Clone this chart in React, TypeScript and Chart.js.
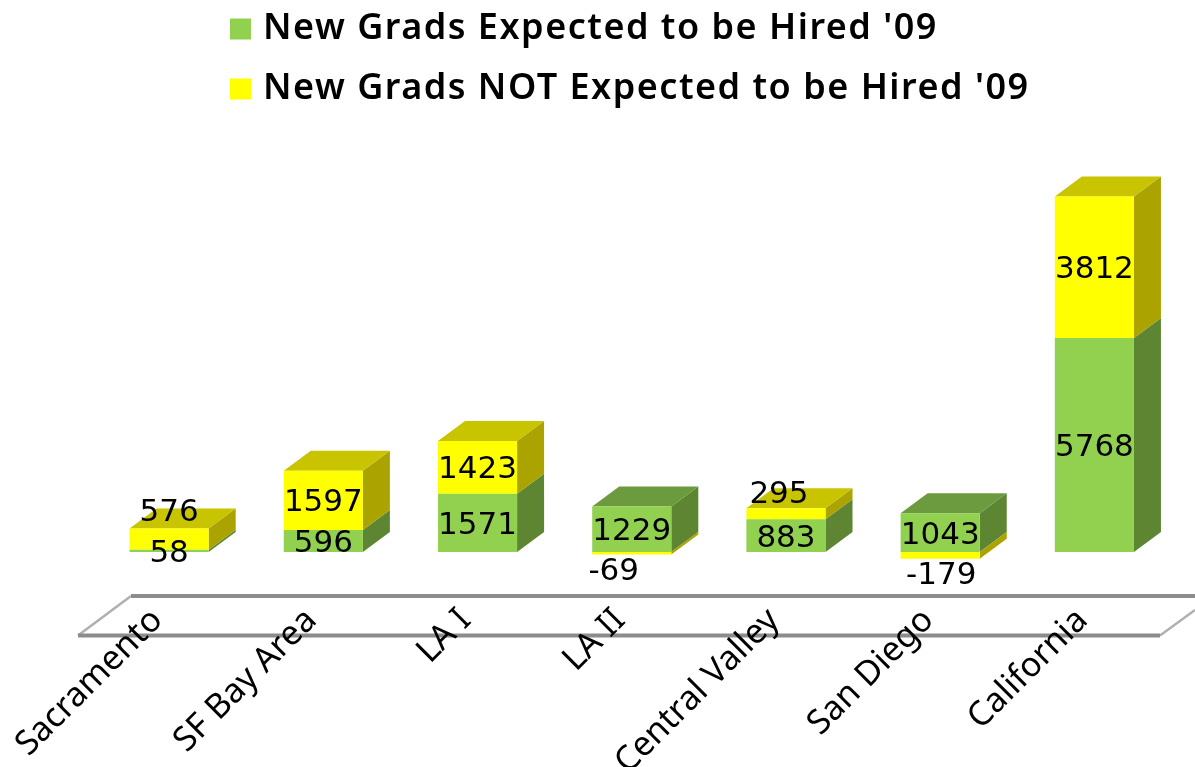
import React, { useEffect, useRef } from "react";
import { Chart, registerables } from "chart.js";

Chart.register(...registerables);

const categories = ["Sacramento", "SF Bay Area", "LA I", "LA II", "Central Valley", "San Diego", "California"];
const expected = [58, 596, 1571, 1229, 883, 1043, 5768];
const notExpected = [576, 1597, 1423, -69, 295, -179, 3812];
const seriesNames = ["New Grads Expected to be Hired '09", "New Grads NOT Expected to be Hired '09"];

const FACE = ["#92D14F", "#FFFF00"];
const SIDE = ["#5E8532", "#ABA300"];
const TOP = ["#6C9A3E", "#C8C400"];
const DEPTH_X = 27;
const DEPTH_Y = -20;
const LABEL_FONT = "31px 'DejaVu Sans'";
// hand nudges of the value labels relative to the segment centre: [dx, dy]
const NUDGE: Record<string, [number, number]> = {
  "1:0": [0, -29],
  "0:0": [0, 0],
  "1:3": [-18, 16],
  "1:4": [-7, -22],
  "1:5": [1, 18],
};

const poly = (ctx: CanvasRenderingContext2D, pts: number[][], color: string) => {
  ctx.fillStyle = color;
  ctx.beginPath();
  pts.forEach(([x, y], i) => (i ? ctx.lineTo(x, y) : ctx.moveTo(x, y)));
  ctx.closePath();
  ctx.fill();
};

const line = (ctx: CanvasRenderingContext2D, pts: number[][], color: string, width: number) => {
  ctx.strokeStyle = color;
  ctx.lineWidth = width;
  ctx.beginPath();
  pts.forEach(([x, y], i) => (i ? ctx.lineTo(x, y) : ctx.moveTo(x, y)));
  ctx.stroke();
};

const box3d = {
  id: "box3d",
  beforeDraw(chart: any) {
    const { ctx, legend } = chart;
    legend.left = 212;
    legend.top = -13;
    if (!legend._spaced) {
      legend._spaced = true;
      const draw = legend.draw;
      legend.draw = function (...args: any[]) {
        ctx.save();
        (ctx as any).letterSpacing = "1.5px";
        draw.apply(legend, args);
        ctx.restore();
      };
    }
    // floor plane
    ctx.save();
    line(ctx, [[78, 635.5], [131, 596]], "#B0B0B0", 2.5);
    line(ctx, [[1160, 635.5], [1195, 610]], "#B0B0B0", 2.5);
    line(ctx, [[131, 596], [1195, 596]], "#8C8C8C", 4);
    line(ctx, [[78, 635.5], [1160, 635.5]], "#8C8C8C", 4);
    ctx.restore();
  },
  beforeDatasetsDraw(chart: any) {
    const { ctx } = chart;
    const metas = [chart.getDatasetMeta(0), chart.getDatasetMeta(1)];
    ctx.save();
    categories.forEach((_, j) => {
      let topDs = 0;
      metas.forEach((meta, d) => {
        const el = meta.data[j];
        const r = el.x + el.width / 2;
        const y1 = Math.min(el.y, el.base);
        const y2 = Math.max(el.y, el.base);
        poly(ctx, [[r, y1], [r + DEPTH_X, y1 + DEPTH_Y], [r + DEPTH_X, y2 + DEPTH_Y], [r, y2]], SIDE[d]);
        if (el.y < metas[topDs].data[j].y) topDs = d;
      });
      const el = metas[topDs].data[j];
      const l = el.x - el.width / 2;
      const r = el.x + el.width / 2;
      poly(ctx, [[l, el.y], [l + DEPTH_X, el.y + DEPTH_Y], [r + DEPTH_X, el.y + DEPTH_Y], [r, el.y]], TOP[topDs]);
    });
    ctx.restore();
  },
  afterDatasetsDraw(chart: any) {
    const { ctx } = chart;
    ctx.save();
    ctx.font = LABEL_FONT;
    ctx.fillStyle = "#000000";
    ctx.textAlign = "center";
    ctx.textBaseline = "middle";
    chart.data.datasets.forEach((ds: any, d: number) => {
      const meta = chart.getDatasetMeta(d);
      ds.data.forEach((v: number, j: number) => {
        const el = meta.data[j];
        const [dx, dy] = NUDGE[`${d}:${j}`] || [0, 0];
        ctx.fillText(String(v), el.x + dx, (el.y + el.base) / 2 + dy + 3);
      });
    });
    ctx.restore();
  },
};

export default function App() {
  const ref = useRef<HTMLCanvasElement>(null);
  useEffect(() => {
    const chart = new Chart(ref.current as HTMLCanvasElement, {
      type: "bar",
      plugins: [box3d],
      data: {
        labels: categories,
        datasets: [
          { label: seriesNames[0], data: expected, backgroundColor: FACE[0] },
          { label: seriesNames[1], data: notExpected, backgroundColor: FACE[1] },
        ],
      },
      options: {
        animation: false,
        responsive: false,
        datasets: { bar: { barPercentage: 1, categoryPercentage: 0.513 } },
        layout: { padding: { left: 92, right: 23.5, top: 0, bottom: 0 } },
        plugins: {
          tooltip: { enabled: false },
          legend: {
            display: true,
            position: "top",
            align: "start",
            labels: {
              color: "#000000",
              font: { family: "'Noto Sans'", size: 36, weight: "600" },
              boxWidth: 9,
              boxHeight: 9,
              padding: 24,
              generateLabels: (c: any) =>
                Chart.defaults.plugins.legend.labels.generateLabels(c).map((it: any) => ({
                  ...it,
                  lineWidth: 12,
                  strokeStyle: it.fillStyle,
                })),
            },
          },
        },
        scales: {
          x: {
            stacked: true,
            grid: { display: false, drawTicks: false },
            border: { display: false },
            afterFit: (s: any) => {
              s.height = 196.45;
              s.paddingLeft = 0;
              s.paddingRight = 0;
            },
            ticks: {
              autoSkip: false,
              minRotation: 45,
              maxRotation: 45,
              padding: 30,
              labelOffset: -12,
              color: "#000000",
              font: { family: "'Noto Sans'", size: 34 },
            },
          },
          y: { stacked: true, display: false, min: -500, max: 11375 },
        },
      },
    } as any);
    return () => chart.destroy();
  }, []);
  return (
    <div style={{ position: "absolute", left: 0, top: 0, width: 1195, height: 767, background: "#fff", overflow: "hidden" }}>
      <canvas ref={ref} width={1195} height={767} style={{ display: "block" }} />
    </div>
  );
}
